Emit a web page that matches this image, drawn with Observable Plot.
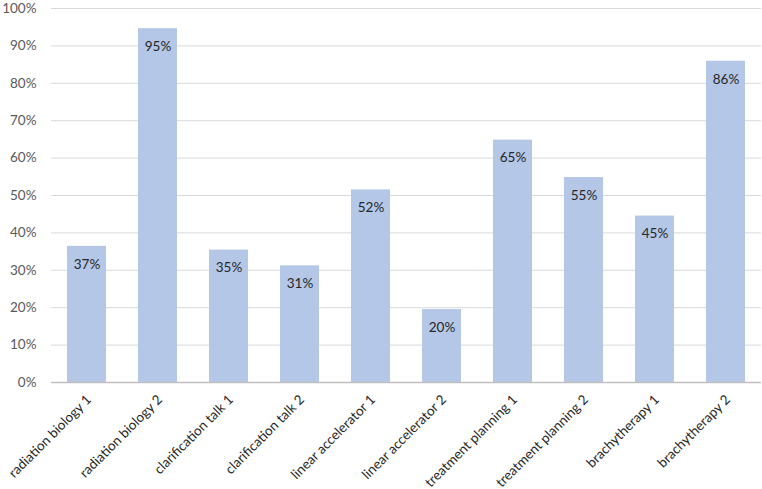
<!DOCTYPE html>
<html><head><meta charset="utf-8">
<script src="https://cdn.jsdelivr.net/npm/d3@7"></script>
<script src="https://cdn.jsdelivr.net/npm/@observablehq/plot@0.6"></script>
<style>body{margin:0;background:#fff;} svg{font-family:Lato,"Open Sans",sans-serif;}</style>
</head><body><div id="chart"></div>
<script>
const categories = ["radiation biology 1","radiation biology 2","clarification talk 1","clarification talk 2","linear accelerator 1","linear accelerator 2","treatment planning 1","treatment planning 2","brachytherapy 1","brachytherapy 2"];
const values = [0.364,0.946,0.354,0.312,0.515,0.195,0.648,0.548,0.445,0.859];
const labels = ["37%","95%","35%","31%","52%","20%","65%","55%","45%","86%"];
const yTicks = [0,0.1,0.2,0.3,0.4,0.5,0.6,0.7,0.8,0.9,1.0];
const data = categories.map((c,i)=>({cat:c, v:values[i], label:labels[i]}));
const chart = Plot.plot({
  width:762, height:489,
  marginTop:8, marginBottom:107, marginLeft:51, marginRight:1,
  style:{fontSize:"13px", color:"#595959", background:"#fff"},
  x:{domain:categories, paddingInner:0.45, paddingOuter:0.225, label:null},
  y:{domain:[0,1], label:null},
  marks:[
    Plot.ruleY(yTicks.slice(1), {stroke:"#d9d9d9", strokeWidth:1}),
    Plot.barY(data, {x:"cat", y:"v", fill:"#b4c7e7"}),
    Plot.ruleY([0], {stroke:"#bfbfbf", strokeWidth:1.5}),
    Plot.text(data, {x:"cat", y:"v", text:"label", dy:18, fill:"#262626", fontSize:13.5}),
    Plot.axisY({ticks:yTicks, tickFormat:d3.format(".0%"), tickSize:0, tickPadding:15, fontSize:13.5, fill:"#595959"}),
    Plot.axisX({tickRotate:-45, tickSize:0, tickPadding:15, fontSize:13.5, fill:"#262626", dx:2})
  ]
});
document.getElementById("chart").appendChild(chart);
</script></body></html>
